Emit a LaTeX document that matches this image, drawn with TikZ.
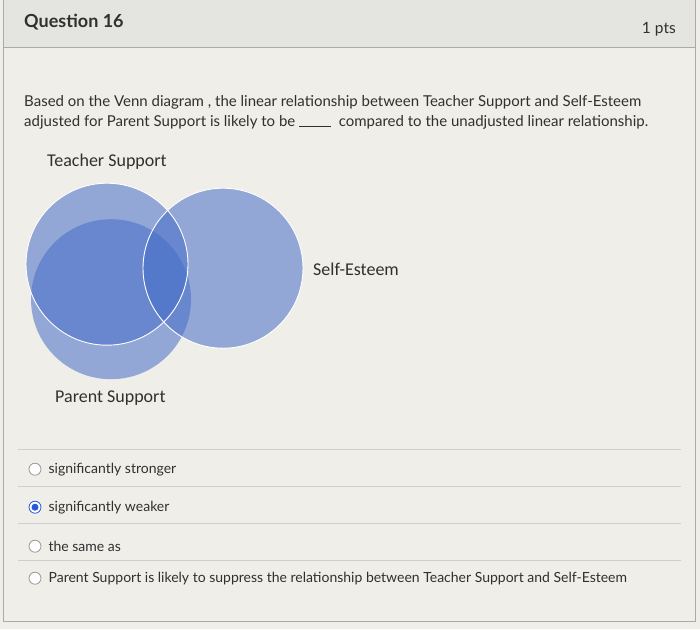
\documentclass[tikz,border=0pt]{standalone}
\usepackage{fontspec}
\setmainfont{Lato}
\newfontfamily\vennfont{Carlito}
\usetikzlibrary{positioning}
\definecolor{pagebg}{RGB}{239,238,232}
\definecolor{headbg}{RGB}{228,228,224}
\definecolor{rulegray}{RGB}{208,208,203}
\definecolor{framegray}{RGB}{170,170,167}
\definecolor{vennblue}{RGB}{70,110,200}
\definecolor{textgray}{RGB}{48,48,48}
\definecolor{radioblue}{RGB}{40,90,215}
\tikzset{
  venncirc/.style={fill=vennblue,fill opacity=0.55},
  vennlabel/.style={anchor=base west,inner sep=0pt,font=\vennfont\fontsize{18}{21}\selectfont,text=textgray},
  stemtext/.style={anchor=base west,inner sep=0pt,font=\fontsize{15}{18}\selectfont,text=textgray},
  option/.style={anchor=west,inner sep=0pt,font=\fontsize{14}{16}\selectfont,text=textgray},
  radio/.style={circle,draw=gray!80,fill=white,minimum size=12pt,inner sep=0pt,line width=0.8pt},
}
\begin{document}
\begin{tikzpicture}[x=1pt,y=-1pt]
  \fill[pagebg] (0,0) rectangle (700,629);
  \fill[headbg] (3,0) rectangle (695,47);
  \draw[framegray] (3,0) -- (3,621) -- (695,621) -- (695,0);
  \draw[framegray] (3,47) -- (695,47);
  \node[anchor=base west,inner sep=0pt,font=\fontsize{18}{21}\selectfont\bfseries,text=textgray] (qtitle) at (24,27) {Question 16};
  \node[anchor=base east,inner sep=0pt,font=\fontsize{15.5}{18}\selectfont,text=textgray] (qpts) at (676,33) {1 pts};

  \node[stemtext] (line1) at (24,106) {Based on the Venn diagram , the linear relationship between Teacher Support and Self-Esteem};
  \node[stemtext] (line2) at (24,126) {adjusted for Parent Support is likely to be \rule[-1pt]{32pt}{0.8pt}\ \ compared to the unadjusted linear relationship.};

  \fill[venncirc] (111,299) circle[radius=80pt];
  \fill[venncirc] (107,264) circle[radius=81pt];
  \fill[venncirc] (223,268) circle[radius=80pt];
  \draw[white,line width=0.9pt] (107,264) circle[radius=81pt];
  \draw[white,line width=0.9pt] (223,268) circle[radius=80pt];

  \node[vennlabel] (teacher) at (47,166) {Teacher Support};
  \node[vennlabel] (esteem) at (313,275) {Self-Esteem};
  \node[vennlabel] (parent) at (55,402) {Parent Support};

  \draw[rulegray] (18,449) -- (681,449);
  \draw[rulegray] (18,486) -- (681,486);
  \draw[rulegray] (18,523) -- (681,523);
  \draw[rulegray] (18,560) -- (681,560);

  \node[radio] (r1) at (35,469) {};
  \node[radio,draw=radioblue] (r2) at (35,507) {};
  \fill[radioblue] (r2.center) circle[radius=3.5pt];
  \node[radio] (r3) at (35,546) {};
  \node[radio] (r4) at (35,578) {};

  \node[option,right=7pt of r1] (o1) {significantly stronger};
  \node[option,right=7pt of r2] (o2) {significantly weaker};
  \node[option,right=7pt of r3] (o3) {the same as};
  \node[option,right=7pt of r4] (o4) {Parent Support is likely to suppress the relationship between Teacher Support and Self-Esteem};
\end{tikzpicture}
\end{document}
